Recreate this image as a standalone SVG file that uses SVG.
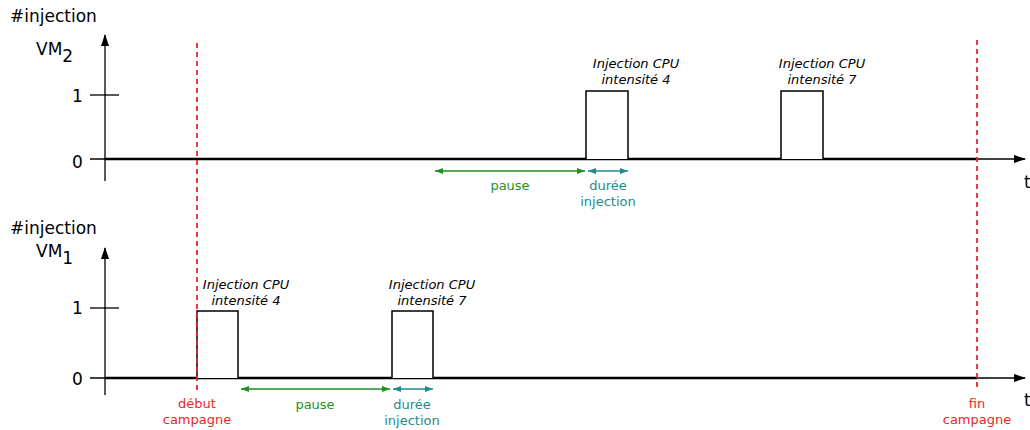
<svg xmlns="http://www.w3.org/2000/svg" width="1030" height="430" viewBox="0 0 1030 430">
<defs>
<marker id="ah" markerWidth="12" markerHeight="8" refX="11" refY="4" orient="auto" markerUnits="userSpaceOnUse"><path d="M0,0 L12,4 L0,8 Z" fill="#000"/></marker>
<marker id="gs" markerWidth="8" markerHeight="6" refX="0" refY="3" orient="auto" markerUnits="userSpaceOnUse"><path d="M8,0 L0,3 L8,6 Z" fill="#1f8f1f"/></marker>
<marker id="ge" markerWidth="8" markerHeight="6" refX="8" refY="3" orient="auto" markerUnits="userSpaceOnUse"><path d="M0,0 L8,3 L0,6 Z" fill="#1f8f1f"/></marker>
<marker id="ts" markerWidth="8" markerHeight="6" refX="0" refY="3" orient="auto" markerUnits="userSpaceOnUse"><path d="M8,0 L0,3 L8,6 Z" fill="#1f8c8c"/></marker>
<marker id="te" markerWidth="8" markerHeight="6" refX="8" refY="3" orient="auto" markerUnits="userSpaceOnUse"><path d="M0,0 L8,3 L0,6 Z" fill="#1f8c8c"/></marker>
</defs>
<style>
text{font-family:"DejaVu Sans",Verdana,sans-serif;}
.ax{stroke:#000;stroke-width:1.3;fill:none;}
.sig{stroke:#000;stroke-width:2.5;fill:none;}
.pulse{stroke:#000;stroke-width:1.5;fill:#fff;}
.red{stroke:#e8262a;stroke-width:1.8;stroke-dasharray:5,4;fill:none;}
.big{font-size:17px;fill:#000;}
.lab{font-size:13px;font-style:italic;fill:#000;text-anchor:middle;}
.g{stroke:#1f8f1f;stroke-width:1.5;}
.t{stroke:#1f8c8c;stroke-width:1.5;}
.gt{font-size:13px;fill:#1f8f1f;text-anchor:middle;}
.tt{font-size:13px;fill:#1f8c8c;text-anchor:middle;}
.rt{font-size:13px;fill:#e8262a;text-anchor:middle;}
</style>
<g id="axes-top">
<line class="ax" x1="105" y1="181" x2="105" y2="35" marker-end="url(#ah)"/>
<line class="ax" x1="90" y1="95" x2="119" y2="95"/>
<line class="ax" x1="90" y1="159" x2="1025" y2="159" marker-end="url(#ah)"/>
<line class="sig" x1="105" y1="159" x2="977" y2="159"/>
<text class="big" x="10" y="22">#injection</text>
<text class="big" x="36" y="55">VM<tspan dy="7">2</tspan></text>
<text class="big" x="72" y="102">1</text>
<text class="big" x="72" y="168">0</text>
<text class="big" x="1024" y="188">t</text>
</g>
<g id="axes-bottom">
<line class="ax" x1="105" y1="395" x2="105" y2="248" marker-end="url(#ah)"/>
<line class="ax" x1="90" y1="308" x2="119" y2="308"/>
<line class="ax" x1="90" y1="378" x2="1025" y2="378" marker-end="url(#ah)"/>
<line class="sig" x1="105" y1="378" x2="977" y2="378"/>
<text class="big" x="10" y="234">#injection</text>
<text class="big" x="36" y="257">VM<tspan dy="7">1</tspan></text>
<text class="big" x="72" y="314">1</text>
<text class="big" x="72" y="385">0</text>
<text class="big" x="1024" y="406">t</text>
</g>
<g id="pulse-vm2-1">
<path class="pulse" d="M586,159 V91 H628 V159"/>
<text class="lab" x="636" y="68">Injection CPU</text>
<text class="lab" x="636" y="84">intensité 4</text>
</g>
<g id="pulse-vm2-2">
<path class="pulse" d="M781,159 V91 H823 V159"/>
<text class="lab" x="822" y="68">Injection CPU</text>
<text class="lab" x="822" y="84">intensité 7</text>
</g>
<g id="pulse-vm1-1">
<path class="pulse" d="M197,378 V311 H238 V378"/>
<text class="lab" x="246" y="289">Injection CPU</text>
<text class="lab" x="246" y="305">intensité 4</text>
</g>
<g id="pulse-vm1-2">
<path class="pulse" d="M392,378 V311 H433 V378"/>
<text class="lab" x="432" y="289">Injection CPU</text>
<text class="lab" x="432" y="305">intensité 7</text>
</g>
<g id="campaign">
<line class="red" x1="197" y1="43" x2="197" y2="390"/>
<line class="red" x1="977" y1="40" x2="977" y2="390"/>
<text class="rt" x="197" y="408">début</text>
<text class="rt" x="197" y="424">campagne</text>
<text class="rt" x="977" y="408">fin</text>
<text class="rt" x="977" y="424">campagne</text>
</g>
<g id="connectors">
<line class="g" x1="435" y1="171" x2="585" y2="171" marker-start="url(#gs)" marker-end="url(#ge)"/>
<line class="t" x1="588" y1="171" x2="628" y2="171" marker-start="url(#ts)" marker-end="url(#te)"/>
<line class="g" x1="241" y1="389" x2="390" y2="389" marker-start="url(#gs)" marker-end="url(#ge)"/>
<line class="t" x1="393" y1="389" x2="433" y2="389" marker-start="url(#ts)" marker-end="url(#te)"/>
</g>
<g id="measure-labels">
<text class="gt" x="510" y="190">pause</text>
<text class="tt" x="608" y="190">durée</text>
<text class="tt" x="608" y="206">injection</text>
<text class="gt" x="315" y="409">pause</text>
<text class="tt" x="412" y="409">durée</text>
<text class="tt" x="412" y="425">injection</text>
</g>
</svg>
